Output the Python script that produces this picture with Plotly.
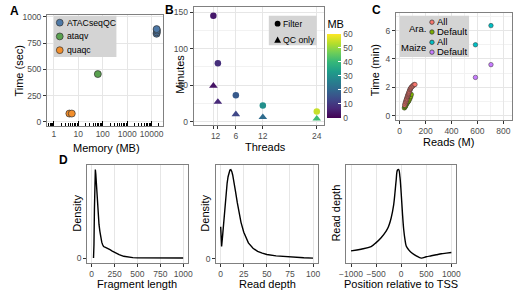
import plotly.graph_objects as go

W, H = 520, 294
def px(x): return x / W
def py(y): return 1 - y / H

FONT = "Liberation Sans, Arial, sans-serif"
TICKC = "#4d4d4d"
GRID = "#e6e6e6"
BORDER = "#808080"

# ---------------- Panel A data ----------------
a_atac_mem = [16000, 16300, 16600, 16100]
a_atac_time = [838, 852, 868, 882]
a_ataqv_mem = [63]
a_ataqv_time = [455]
a_quaqc_mem = [4.3, 5.4]
a_quaqc_time = [80, 80]
a_xticks = [1, 10, 100, 1000, 10000]
a_yticks = [0, 250, 500, 750, 1000]

# ---------------- Panel B data ----------------
b_threads = [1, 2, 6, 12, 24]
b_filter_min = [145, 80, 36, 22, 14]
b_filter_mb = [4, 8, 17, 30, 55]
b_qc_min = [49, 27, 10, 6, 4]
b_qc_mb = [3, 7, 13, 21, 41]
b_yticks = [0, 50, 100, 150]
b_cbticks = [0, 10, 20, 30, 40, 50, 60]

# ---------------- Panel C data ----------------
c_ara_all_reads = [38, 42, 45, 48, 50, 52, 55, 57, 60, 62, 64, 66, 68, 70, 72, 75, 78, 80, 83, 86, 90, 95, 100, 106, 112, 118]
c_ara_all_time = [0.75, 0.85, 0.95, 1.0, 1.08, 1.15, 1.2, 1.28, 1.35, 1.4, 1.45, 1.5, 1.55, 1.6, 1.66, 1.72, 1.8, 1.85, 1.9, 1.95, 2.0, 2.05, 2.1, 2.15, 2.2, 2.2]
c_ara_def_reads = [36, 40, 43, 46, 50, 54, 58, 62, 66, 70, 75, 80, 85, 90]
c_ara_def_time = [0.55, 0.6, 0.65, 0.7, 0.78, 0.85, 0.9, 0.95, 1.0, 1.05, 1.15, 1.25, 1.35, 1.5]
c_mz_all_reads = [585, 705]
c_mz_all_time = [5.0, 6.35]
c_mz_def_reads = [585, 705]
c_mz_def_time = [2.7, 3.6]
c_xticks = [0, 200, 400, 600, 800]
c_yticks = [0, 2, 4, 6]

# ---------------- Panel D data ----------------
d1_len = [20, 25, 30, 35, 40, 45, 50, 60, 70, 80, 90, 100, 110, 120, 130, 150, 175, 200, 225, 250, 300, 350, 400, 450, 500, 600, 700, 800, 900, 1000]
d1_dens = [0.0, 0.15, 0.55, 0.9, 1.0, 0.95, 0.85, 0.65, 0.5, 0.38, 0.3, 0.23, 0.18, 0.15, 0.13, 0.12, 0.11, 0.095, 0.08, 0.065, 0.04, 0.02, 0.01, 0.005, 0.002, 0.001, 0.0005, 0.0003, 0.0002, 0.0001]
d1_xticks = [0, 250, 500, 750, 1000]

d2_depth = [0, 1, 2, 3, 4, 5, 6, 7, 8, 9, 10, 11, 12, 13, 14, 15, 16, 18, 20, 22, 25, 28, 30, 35, 40, 45, 50, 60, 70, 80, 90, 100]
d2_dens = [0.36, 0.14, 0.25, 0.38, 0.52, 0.65, 0.76, 0.85, 0.92, 0.97, 0.995, 1.0, 0.98, 0.94, 0.89, 0.83, 0.76, 0.63, 0.51, 0.41, 0.3, 0.22, 0.18, 0.12, 0.085, 0.065, 0.05, 0.035, 0.025, 0.018, 0.013, 0.01]
d2_xticks = [0, 25, 50, 75, 100]

d3_pos = [-1000, -800, -600, -500, -400, -300, -250, -200, -150, -125, -100, -75, -50, -25, 0, 25, 50, 75, 100, 150, 200, 300, 400, 500, 600, 700, 800, 900, 1000]
d3_depth = [3.5, 4.0, 4.8, 6.0, 7.5, 9.5, 11.0, 13.5, 17.5, 21.0, 25.0, 28.0, 28.2, 26.0, 21.0, 15.0, 10.0, 7.0, 5.0, 3.8, 3.0, 2.0, 1.3, 1.7, 2.0, 2.3, 2.6, 2.8, 3.0]
d3_xticks = [-1000, -500, 0, 500, 1000]
d3_xlabels = ["\u22121000", "\u2212500", "0", "500", "1000"]

# colours
COL_A = {"ATACseqQC": "#4E79A7", "ataqv": "#59A14F", "quaqc": "#F28E2B"}
COL_C = {"ara_all": "#F8766D", "ara_def": "#7CAE00", "mz_all": "#00BFC4", "mz_def": "#C77CFF"}


def expand(vals, frac=0.05):
    lo, hi = min(vals), max(vals)
    d = (hi - lo) * frac
    return [lo - d, hi + d]


def axis(domain, rng, tickvals=None, ticktext=None, anchor=None, **kw):
    d = dict(
        domain=domain, range=rng, anchor=anchor,
        showline=True, mirror=True, linecolor=BORDER, linewidth=1,
        showgrid=True, gridcolor=GRID, gridwidth=0.8, zeroline=False,
        ticks="outside", ticklen=3, tickcolor="#333333", tickwidth=0.8,
        tickfont=dict(family=FONT, size=8.5, color=TICKC), tickangle=0,
    )
    if tickvals is not None:
        d["tickmode"] = "array"
        d["tickvals"] = tickvals
        d["ticktext"] = ticktext if ticktext is not None else [str(v) for v in tickvals]
    d.update(kw)
    return d


fig = go.Figure()

# ---- A ----
pt_line = dict(color="#333333", width=0.7)
fig.add_trace(go.Scatter(x=a_atac_mem, y=a_atac_time, mode="markers", xaxis="x", yaxis="y",
                         marker=dict(size=7, color=COL_A["ATACseqQC"], line=pt_line), showlegend=False))
fig.add_trace(go.Scatter(x=a_ataqv_mem, y=a_ataqv_time, mode="markers", xaxis="x", yaxis="y",
                         marker=dict(size=7, color=COL_A["ataqv"], line=pt_line), showlegend=False))
fig.add_trace(go.Scatter(x=a_quaqc_mem, y=a_quaqc_time, mode="markers", xaxis="x", yaxis="y",
                         marker=dict(size=7, color=COL_A["quaqc"], line=pt_line), showlegend=False))

# ---- B ----
fig.add_trace(go.Scatter(x=b_threads, y=b_filter_min, mode="markers", xaxis="x2", yaxis="y2",
                         marker=dict(size=6.5, symbol="circle", color=b_filter_mb, coloraxis="coloraxis"),
                         showlegend=False))
fig.add_trace(go.Scatter(x=b_threads, y=b_qc_min, mode="markers", xaxis="x2", yaxis="y2",
                         marker=dict(size=7.5, symbol="triangle-up", color=b_qc_mb, coloraxis="coloraxis"),
                         showlegend=False))

# ---- C ----
cl = dict(color="#333333", width=0.5)
fig.add_trace(go.Scatter(x=c_ara_def_reads, y=c_ara_def_time, mode="markers", xaxis="x3", yaxis="y3",
                         marker=dict(size=4.5, color=COL_C["ara_def"], line=cl), showlegend=False))
fig.add_trace(go.Scatter(x=c_ara_all_reads, y=c_ara_all_time, mode="markers", xaxis="x3", yaxis="y3",
                         marker=dict(size=4.5, color=COL_C["ara_all"], line=cl), showlegend=False))
fig.add_trace(go.Scatter(x=c_mz_all_reads, y=c_mz_all_time, mode="markers", xaxis="x3", yaxis="y3",
                         marker=dict(size=4.5, color=COL_C["mz_all"], line=cl), showlegend=False))
fig.add_trace(go.Scatter(x=c_mz_def_reads, y=c_mz_def_time, mode="markers", xaxis="x3", yaxis="y3",
                         marker=dict(size=4.5, color=COL_C["mz_def"], line=cl), showlegend=False))

# ---- D ----
lk = dict(color="black", width=1.4)
fig.add_trace(go.Scatter(x=d1_len, y=d1_dens, mode="lines", xaxis="x4", yaxis="y4", line=lk, showlegend=False))
fig.add_trace(go.Scatter(x=d2_depth, y=d2_dens, mode="lines", xaxis="x5", yaxis="y5", line=lk, showlegend=False))
fig.add_trace(go.Scatter(x=d3_pos, y=d3_depth, mode="lines", xaxis="x6", yaxis="y6", line=lk, showlegend=False,
                         line_shape="spline"))

# ---- axes ----
layout = dict(
    width=W, height=H, margin=dict(l=0, r=0, t=0, b=0),
    paper_bgcolor="white", plot_bgcolor="white",
    font=dict(family=FONT, color="black"),
    showlegend=False,
)

# A
layout["xaxis"] = axis([px(41), px(160)], [-0.28, 4.48], a_xticks, [str(v) for v in a_xticks], anchor="y",
                       type="log", ticks="inside", ticklen=5, tickcolor="black", tickwidth=1,
                       minor=dict(ticks="inside", ticklen=2.5, tickcolor="black", tickwidth=0.8, dtick="D1", showgrid=False))
layout["yaxis"] = axis([py(125), py(12)], [-37, 1018], a_yticks, anchor="x")
# B
layout["xaxis2"] = axis([px(191), px(324)], [-3.4, 25.5], b_threads, anchor="y2")
layout["yaxis2"] = axis([py(124), py(4)], [-4.5, 157], b_yticks, anchor="x2",
                        minor=dict(tickvals=[25, 75, 125], showgrid=True, gridcolor="#f2f2f2", ticks=""))
# C
layout["xaxis3"] = axis([px(398), px(517)], [-30, 868], c_xticks, anchor="y3",
                        minor=dict(dtick=100, showgrid=True, gridcolor="#f2f2f2", ticks=""))
layout["yaxis3"] = axis([py(119), py(10)], [-0.3, 7.25], c_yticks, anchor="x3",
                        minor=dict(dtick=1, showgrid=True, gridcolor="#f2f2f2", ticks=""))
# D
dy_top, dy_bot = 165, 264
layout["xaxis4"] = axis([px(82), px(185)], [-50, 1050], d1_xticks, anchor="y4")
layout["yaxis4"] = axis([py(dy_bot), py(dy_top)], expand(d1_dens), [0], anchor="x4", showgrid=False)
layout["xaxis5"] = axis([px(214), px(318)], [-5, 105], d2_xticks, anchor="y5")
layout["yaxis5"] = axis([py(dy_bot), py(dy_top)], expand(d2_dens), [0], anchor="x5", showgrid=False)
layout["xaxis6"] = axis([px(347), px(460)], [-1100, 1100], d3_xticks, d3_xlabels, anchor="y6")
layout["yaxis6"] = axis([py(dy_bot), py(dy_top)], expand(d3_depth), [], anchor="x6", showgrid=False,
                        showticklabels=False, ticks="")

layout["coloraxis"] = dict(
    colorscale="Viridis", cmin=0, cmax=60,
    colorbar=dict(
        x=px(328), xanchor="left", y=py(14), yanchor="top",
        len=101, lenmode="pixels", thickness=14, thicknessmode="pixels",
        xpad=0, ypad=0, outlinewidth=0,
        tickmode="array", tickvals=b_cbticks,
        ticks="inside", ticklen=3, tickcolor="white", tickwidth=1,
        tickfont=dict(family=FONT, size=8.5, color=TICKC),
        title=dict(text="MB", side="top", font=dict(family=FONT, size=11, color="black")),
    ),
)

fig.update_layout(**layout)

# ---- text annotations ----
def txt(text, x, y, size=11, angle=0, anchor="center", bold=False, color="black", height=None):
    t = f"<b>{text}</b>" if bold else text
    kw = {}
    if height is not None:
        kw["height"] = height
    fig.add_annotation(text=t, x=px(x), y=py(y), xref="paper", yref="paper", showarrow=False,
                       xanchor=anchor, yanchor="middle", textangle=angle, borderpad=0,
                       font=dict(family=FONT, size=size, color=color), **kw)

# panel labels
txt("A", 8, 8, 12, bold=True)
txt("B", 166, 7, 12, bold=True)
txt("C", 378, 7, 12, bold=True)
txt("D", 58, 160, 12, bold=True)

# axis titles
txt("Time (sec)", 12, 69, angle=-90)
txt("Memory (MB)", 102, 148)
txt("Minutes", 177, 72, angle=-90)
txt("Threads", 265, 146)
txt("Time (min)", 377, 68, angle=-90)
txt("Reads (M)", 452, 141)
txt("Density", 72, 214, angle=-90)
txt("Fragment length", 133, 286)
txt("Density", 203, 214, angle=-90)
txt("Read depth", 267, 286)
txt("Read depth", 337, 214, angle=-90)
txt("Position relative to TSS", 403, 286)

# ---- manual legends ----
LEGBG = "#d4d4d4"
def rect(x0, y0, x1, y1):
    fig.add_shape(type="rect", xref="paper", yref="paper", x0=px(x0), x1=px(x1), y0=py(y1), y1=py(y0),
                  fillcolor=LEGBG, line=dict(width=0), layer="above")

def dot(x, y, d, color, outline=True):
    fig.add_shape(type="circle", xref="paper", yref="paper",
                  x0=px(x - d / 2), x1=px(x + d / 2), y0=py(y + d / 2), y1=py(y - d / 2),
                  fillcolor=color, line=dict(width=0.7 if outline else 0, color="#333333"), layer="above")

def tri(x, y, s, color):
    path = f"M {px(x - s/2)},{py(y + s/2.3)} L {px(x + s/2)},{py(y + s/2.3)} L {px(x)},{py(y - s/2)} Z"
    fig.add_shape(type="path", xref="paper", yref="paper", path=path, fillcolor=color,
                  line=dict(width=0), layer="above")

# A legend
rect(48, 13, 112, 55)
for i, name in enumerate(["ATACseqQC", "ataqv", "quaqc"]):
    yy = 20 + i * 14
    dot(54, yy, 7, COL_A[name])
    txt(name, 60, yy, 8.7, anchor="left", height=12)

# B legend
rect(268, 13, 317, 43)
dot(277, 21, 6, "black", outline=False)
txt("Filter", 282, 21, 8.7, anchor="left", height=12)
tri(277, 37.5, 7, "black")
txt("QC only", 282, 38, 8.7, anchor="left", height=12)

# C legend
rect(402, 13, 473, 55)
c_leg = [("All", COL_C["ara_all"], 19.5), ("Default", COL_C["ara_def"], 29.5),
         ("All", COL_C["mz_all"], 40), ("Default", COL_C["mz_def"], 50)]
for lab, col, yy in c_leg:
    dot(435, yy, 4.5, col)
    txt(lab, 439, yy, 9.5, anchor="left", height=9.5)
txt("Ara.", 430, 25, 9.5, anchor="right", height=10)
txt("Maize", 430, 45, 9.5, anchor="right", height=10)

fig.write_html("out.html", config={"displayModeBar": False},
               post_script="document.body.style.margin='0px';document.body.style.overflow='hidden';")
